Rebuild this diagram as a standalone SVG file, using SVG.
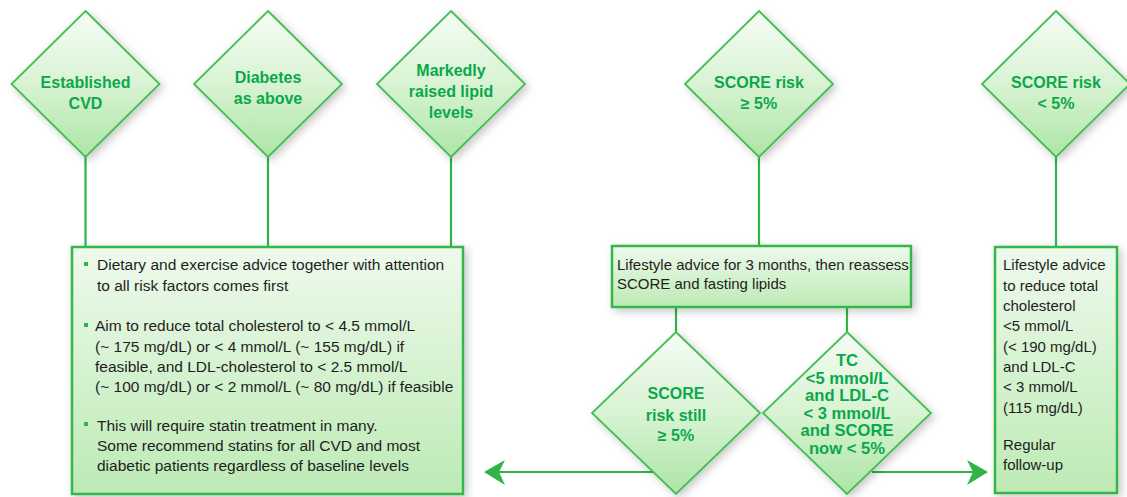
<svg xmlns="http://www.w3.org/2000/svg" width="1127" height="497" viewBox="0 0 1127 497">
  <style>
    .diamond { fill: url(#diamondFill); stroke: #45bd53; stroke-width: 1.8; filter: url(#softShadow); }
    .box { fill: url(#boxFill); stroke: #35b648; stroke-width: 2.5; filter: url(#softShadow); }
    .link { fill: none; stroke: #2fb446; stroke-width: 2.2; }
    .head { fill: #2fb446; }
    .dtext { font-family: "Liberation Sans", Arial, sans-serif; font-weight: bold; font-size: 16px; fill: #0aa84b; text-anchor: middle; }
    .tc { font-size: 16.6px; }
    .btext { font-family: "Liberation Sans", Arial, sans-serif; font-size: 15.5px; fill: #1e1e1e; }
    .stext { font-family: "Liberation Sans", Arial, sans-serif; font-size: 15px; fill: #1e1e1e; }
    .bullet { fill: #2fb446; }
  </style>
  <defs>
    <linearGradient id="diamondFill" x1="0" y1="0" x2="0" y2="1">
      <stop offset="0" stop-color="#f6fcf5"/>
      <stop offset="0.5" stop-color="#d8f3d3"/>
      <stop offset="1" stop-color="#ade5a6"/>
    </linearGradient>
    <linearGradient id="boxFill" x1="0" y1="0" x2="0" y2="1">
      <stop offset="0" stop-color="#eefaec"/>
      <stop offset="1" stop-color="#bdeab5"/>
    </linearGradient>
    <filter id="softShadow" x="-20%" y="-20%" width="140%" height="140%">
      <feDropShadow dx="3" dy="3" stdDeviation="4" flood-color="#000" flood-opacity="0.22"/>
    </filter>
  </defs>

  <rect width="1127" height="497" fill="#ffffff"/>

  <!-- connectors -->
  <g id="connectors">
    <line class="link" x1="85.5" y1="157" x2="85.5" y2="247"/>
    <line class="link" x1="268" y1="157" x2="268" y2="247"/>
    <line class="link" x1="451" y1="157" x2="451" y2="247"/>
    <line class="link" x1="759" y1="157" x2="759" y2="246"/>
    <line class="link" x1="1056" y1="157" x2="1056" y2="247"/>
    <line class="link" x1="676" y1="307" x2="676" y2="332"/>
    <line class="link" x1="847" y1="307" x2="847" y2="332"/>
    <!-- still high risk: back to intensive management -->
    <line class="link" x1="654" y1="472" x2="495" y2="472"/>
    <path class="head" d="M484,472 L505,460 L499,472 L505,485 Z"/>
    <!-- targets reached: to lifestyle follow-up -->
    <line class="link" x1="872" y1="472" x2="977" y2="472"/>
    <path class="head" d="M988,472 L967,460 L973,472 L967,485 Z"/>
  </g>

  <!-- top row of decision diamonds -->
  <g id="established-cvd">
    <polygon class="diamond" points="85.5,11 159.5,84 85.5,157 11.5,84"/>
    <text class="dtext" x="85.5" y="88">Established</text>
    <text class="dtext" x="85.5" y="109">CVD</text>
  </g>
  <g id="diabetes">
    <polygon class="diamond" points="268,11 342,84 268,157 194,84"/>
    <text class="dtext" x="268" y="83">Diabetes</text>
    <text class="dtext" x="268" y="104">as above</text>
  </g>
  <g id="raised-lipids">
    <polygon class="diamond" points="451,11 525,84 451,157 377,84"/>
    <text class="dtext" x="451" y="76">Markedly</text>
    <text class="dtext" x="451" y="97">raised lipid</text>
    <text class="dtext" x="451" y="118">levels</text>
  </g>
  <g id="score-high">
    <polygon class="diamond" points="759,11 833,84 759,157 685,84"/>
    <text class="dtext" x="759" y="88">SCORE risk</text>
    <text class="dtext" x="759" y="109">≥ 5%</text>
  </g>
  <g id="score-low">
    <polygon class="diamond" points="1056,11 1130,84 1056,157 982,84"/>
    <text class="dtext" x="1056" y="88">SCORE risk</text>
    <text class="dtext" x="1056" y="109">&lt; 5%</text>
  </g>

  <!-- intensive management box -->
  <g id="management">
    <rect class="box" x="72" y="247" width="391" height="247"/>
    <rect class="bullet" x="84" y="262" width="4" height="4"/>
    <text class="btext" x="97" y="270">Dietary and exercise advice together with attention</text>
    <text class="btext" x="97" y="291">to all risk factors comes first</text>
    <rect class="bullet" x="84" y="323" width="4" height="4"/>
    <text class="btext" x="95" y="331">Aim to reduce total cholesterol to &lt; 4.5 mmol/L</text>
    <text class="btext" x="95" y="352">(~ 175 mg/dL) or &lt; 4 mmol/L (~ 155 mg/dL) if</text>
    <text class="btext" x="95" y="372">feasible, and LDL-cholesterol to &lt; 2.5 mmol/L</text>
    <text class="btext" x="95" y="392">(~ 100 mg/dL) or &lt; 2 mmol/L (~ 80 mg/dL) if feasible</text>
    <rect class="bullet" x="84" y="422" width="4" height="4"/>
    <text class="btext" x="97" y="431">This will require statin treatment in many.</text>
    <text class="btext" x="97" y="451">Some recommend statins for all CVD and most</text>
    <text class="btext" x="97" y="471">diabetic patients regardless of baseline levels</text>
  </g>

  <!-- lifestyle reassessment box -->
  <g id="reassess">
    <rect class="box" x="612" y="246" width="299" height="61"/>
    <text class="stext" x="617" y="270">Lifestyle advice for 3 months, then reassess</text>
    <text class="stext" x="617" y="289">SCORE and fasting lipids</text>
  </g>

  <!-- low risk advice box -->
  <g id="lifestyle-low">
    <rect class="box" x="995" y="247" width="122" height="246"/>
    <text class="stext" x="1003" y="270">Lifestyle advice</text>
    <text class="stext" x="1003" y="291">to reduce total</text>
    <text class="stext" x="1003" y="311">cholesterol</text>
    <text class="stext" x="1003" y="331">&lt;5 mmol/L</text>
    <text class="stext" x="1003" y="352">(&lt; 190 mg/dL)</text>
    <text class="stext" x="1003" y="372">and LDL-C</text>
    <text class="stext" x="1003" y="392">&lt; 3 mmol/L</text>
    <text class="stext" x="1003" y="413">(115 mg/dL)</text>
    <text class="stext" x="1003" y="450">Regular</text>
    <text class="stext" x="1003" y="470">follow-up</text>
  </g>

  <!-- reassessment outcomes -->
  <g id="score-still-high">
    <polygon class="diamond" points="676,332 760,413 676,494 592,413"/>
    <text class="dtext" x="676" y="399">SCORE</text>
    <text class="dtext" x="676" y="421">risk still</text>
    <text class="dtext" x="676" y="441">≥ 5%</text>
  </g>
  <g id="targets-met">
    <polygon class="diamond" points="847,332 931,413 847,494 763,413"/>
    <text class="dtext tc" x="847" y="366">TC</text>
    <text class="dtext tc" x="847" y="383.6">&lt;5 mmol/L</text>
    <text class="dtext tc" x="847" y="401.2">and LDL-C</text>
    <text class="dtext tc" x="847" y="418.8">&lt; 3 mmol/L</text>
    <text class="dtext tc" x="847" y="436.4">and SCORE</text>
    <text class="dtext tc" x="847" y="454">now &lt; 5%</text>
  </g>
</svg>
